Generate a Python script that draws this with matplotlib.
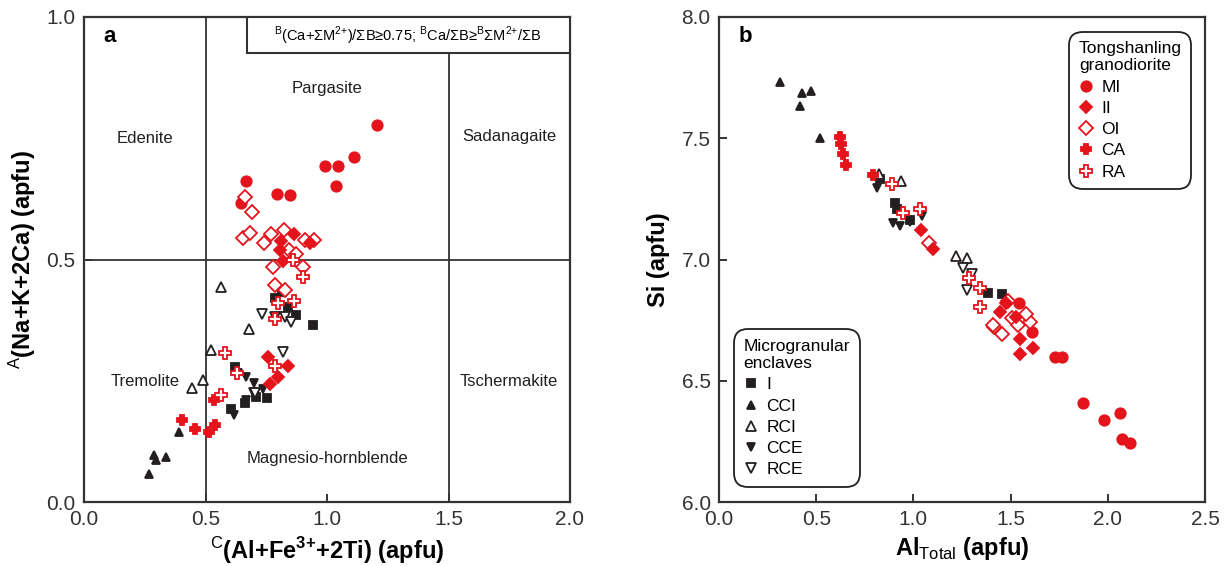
import numpy as np
import matplotlib
matplotlib.use('Agg')
import matplotlib.pyplot as plt
from matplotlib.patches import Rectangle

plt.rcParams['font.family'] = ['Liberation Sans', 'DejaVu Sans']
plt.rcParams['mathtext.fontset'] = 'custom'
plt.rcParams['mathtext.rm'] = 'Liberation Sans'
plt.rcParams['mathtext.bf'] = 'Liberation Sans:bold'

# panel a: C(Al+Fe3++2Ti) vs A(Na+K+2Ca)
mi_a_x = [1.205, 1.112, 0.992, 1.046, 1.039, 0.667, 0.793, 0.846, 0.647]
mi_a_y = [0.778, 0.712, 0.692, 0.692, 0.652, 0.661, 0.636, 0.633, 0.616]
ii_a_x = [0.865, 0.812, 0.805, 0.818, 0.930, 0.759, 0.841, 0.800, 0.766]
ii_a_y = [0.552, 0.539, 0.520, 0.496, 0.535, 0.299, 0.280, 0.258, 0.243]
oi_a_x = [0.664, 0.690, 0.653, 0.682, 0.741, 0.771, 0.822, 0.778, 0.844, 0.903, 0.874, 0.788, 0.829, 0.911, 0.947]
oi_a_y = [0.628, 0.597, 0.545, 0.554, 0.533, 0.552, 0.560, 0.485, 0.519, 0.485, 0.511, 0.448, 0.437, 0.541, 0.541]
ca_a_x = [0.405, 0.457, 0.513, 0.539, 0.535]
ca_a_y = [0.169, 0.150, 0.145, 0.158, 0.210]
ra_a_x = [0.582, 0.564, 0.628, 0.785, 0.800, 0.866, 0.785, 0.900, 0.859]
ra_a_y = [0.307, 0.221, 0.266, 0.280, 0.411, 0.414, 0.377, 0.464, 0.500]
i_a_x = [0.942, 0.874, 0.841, 0.785, 0.815, 0.623, 0.753, 0.706, 0.662, 0.606]
i_a_y = [0.365, 0.386, 0.403, 0.420, 0.433, 0.278, 0.215, 0.217, 0.204, 0.191]
cci_a_x = [0.393, 0.290, 0.337, 0.295, 0.267]
cci_a_y = [0.144, 0.097, 0.092, 0.087, 0.057]
rci_a_x = [0.564, 0.679, 0.523, 0.491, 0.443]
rci_a_y = [0.443, 0.357, 0.314, 0.252, 0.236]
cce_a_x = [0.665, 0.700, 0.738, 0.694, 0.616, 0.667]
cce_a_y = [0.258, 0.245, 0.234, 0.226, 0.180, 0.210]
rce_a_x = [0.731, 0.785, 0.829, 0.852, 0.819, 0.629, 0.704]
rce_a_y = [0.388, 0.381, 0.381, 0.371, 0.310, 0.263, 0.225]

# panel b: Al total vs Si
mi_b_x = [1.543, 1.610, 1.727, 1.764, 1.873, 1.980, 2.063, 2.073, 2.116]
mi_b_y = [6.820, 6.700, 6.598, 6.598, 6.408, 6.338, 6.367, 6.260, 6.243]
ii_b_x = [1.040, 1.100, 1.445, 1.528, 1.548, 1.548, 1.615, 1.476]
ii_b_y = [7.120, 7.043, 6.783, 6.763, 6.672, 6.610, 6.635, 6.820]
oi_b_x = [1.080, 1.415, 1.456, 1.487, 1.507, 1.538, 1.600, 1.579, 1.410]
oi_b_y = [7.070, 6.720, 6.693, 6.828, 6.760, 6.730, 6.742, 6.775, 6.730]
ca_b_x = [0.622, 0.630, 0.636, 0.653, 0.790]
ca_b_y = [7.505, 7.475, 7.435, 7.390, 7.350]
ra_b_x = [0.888, 0.948, 1.035, 1.286, 1.343, 1.343]
ra_b_y = [7.310, 7.190, 7.210, 6.924, 6.882, 6.804]
i_b_x = [0.830, 0.914, 0.905, 0.983, 1.384, 1.456]
i_b_y = [7.330, 7.210, 7.233, 7.163, 6.862, 6.857]
cci_b_x = [0.314, 0.427, 0.472, 0.417, 0.520]
cci_b_y = [7.730, 7.686, 7.695, 7.635, 7.500]
rci_b_x = [0.823, 0.934, 1.219, 1.274]
rci_b_y = [7.353, 7.324, 7.014, 7.006]
cce_b_x = [0.813, 0.896, 0.930, 0.983, 1.043]
cce_b_y = [7.295, 7.150, 7.140, 7.155, 7.180]
rce_b_x = [1.256, 1.300, 1.274]
rce_b_y = [6.965, 6.940, 6.874]

red = '#e5131b'
blk = '#231f20'
dark = '#333333'

# marker styles: (marker, size, face, edge)
enclave_style = {
    'I': ('s', 6, blk, blk),
    'CCI': ('^', 6, blk, blk),
    'RCI': ('^', 7, 'white', blk),
    'CCE': ('v', 6, blk, blk),
    'RCE': ('v', 7, 'white', blk),
}
grano_style = {
    'MI': ('o', 7.5, red, red),
    'II': ('D', 6.5, red, red),
    'OI': ('D', 7, 'white', red),
    'CA': ('P', 7, red, red),
    'RA': ('P', 8.5, 'white', red),
}

fig = plt.figure(figsize=(12.28, 5.66), dpi=100)
ax1 = fig.add_axes([84 / 1228, 1 - 502 / 566, 486 / 1228, 485 / 566])
ax2 = fig.add_axes([719 / 1228, 1 - 502 / 566, 486 / 1228, 485 / 566])


def draw(ax, data):
    handles = {}
    for name, (x, y) in data.items():
        m, s, fc, ec = {**enclave_style, **grano_style}[name]
        h, = ax.plot(x, y, ls='none', marker=m, ms=s, mfc=fc, mec=ec, mew=1.3, label=name)
        handles[name] = h
    return handles


data_a = {'I': (i_a_x, i_a_y), 'CCI': (cci_a_x, cci_a_y), 'RCI': (rci_a_x, rci_a_y),
          'CCE': (cce_a_x, cce_a_y), 'RCE': (rce_a_x, rce_a_y),
          'MI': (mi_a_x, mi_a_y), 'OI': (oi_a_x, oi_a_y), 'II': (ii_a_x, ii_a_y),
          'CA': (ca_a_x, ca_a_y), 'RA': (ra_a_x, ra_a_y)}
data_b = {'I': (i_b_x, i_b_y), 'CCI': (cci_b_x, cci_b_y), 'RCI': (rci_b_x, rci_b_y),
          'CCE': (cce_b_x, cce_b_y), 'RCE': (rce_b_x, rce_b_y),
          'MI': (mi_b_x, mi_b_y), 'OI': (oi_b_x, oi_b_y), 'II': (ii_b_x, ii_b_y),
          'CA': (ca_b_x, ca_b_y), 'RA': (ra_b_x, ra_b_y)}

# ---- panel a ----
ax1.axvline(0.5, color=dark, lw=1.3, zorder=1)
ax1.plot([1.5, 1.5], [0, 0.93], color=dark, lw=1.3, zorder=1)
ax1.axhline(0.5, color=dark, lw=1.3, zorder=1)
draw(ax1, data_a)
ax1.set_xlim(0, 2)
ax1.set_ylim(0, 1)
ax1.set_xticks([0, 0.5, 1.0, 1.5, 2.0])
ax1.set_yticks([0, 0.5, 1.0])

fields = [('Edenite', 0.25, 0.75), ('Pargasite', 1.0, 0.852), ('Sadanagaite', 1.75, 0.753),
          ('Tremolite', 0.25, 0.249), ('Tschermakite', 1.75, 0.249),
          ('Magnesio-hornblende', 1.0, 0.089)]
for txt, fx, fy in fields:
    ax1.text(fx, fy, txt, ha='center', va='center', fontsize=12, color=blk)

ax1.add_patch(Rectangle((0.335, 0.926), 0.665, 0.074, transform=ax1.transAxes,
                        facecolor='white', edgecolor=dark, lw=1.5, zorder=5))
ax1.text(0.667, 0.962,
         r'$^{\rm B}$(Ca+ΣM$^{2{+}}$)/ΣB≥0.75; $^{\rm B}$Ca/ΣB≥$^{\rm B}$ΣM$^{2{+}}$/ΣB',
         transform=ax1.transAxes, ha='center', va='center', fontsize=10.5, zorder=6)
ax1.text(0.04, 0.96, 'a', transform=ax1.transAxes, fontsize=16, fontweight='bold', va='center')
ax1.set_xlabel(r'$^{\mathrm{C}}$(Al+Fe$^{\mathbf{3{+}}}$+2Ti) (apfu)', fontsize=17, fontweight='bold', labelpad=4)
ax1.set_ylabel(r'$^{\mathrm{A}}$(Na+K+2Ca) (apfu)', fontsize=17, fontweight='bold', labelpad=6)

# ---- panel b ----
hb = draw(ax2, data_b)
ax2.set_xlim(0, 2.5)
ax2.set_ylim(6, 8)
ax2.set_xticks([0, 0.5, 1.0, 1.5, 2.0, 2.5])
ax2.set_yticks([6.0, 6.5, 7.0, 7.5, 8.0])
ax2.text(0.04, 0.96, 'b', transform=ax2.transAxes, fontsize=16, fontweight='bold', va='center')
ax2.set_xlabel(r'Al$_{\mathrm{Total}}$ (apfu)', fontsize=17, fontweight='bold', labelpad=4)
ax2.set_ylabel('Si (apfu)', fontsize=17, fontweight='bold', labelpad=8)

leg_kw = dict(fontsize=12.5, title_fontsize=12.5, alignment='left', frameon=True,
              fancybox=True, handlelength=0.8, handletextpad=0.5, labelspacing=0.35,
              borderpad=0.55, borderaxespad=0, edgecolor=blk)
leg1 = ax2.legend([hb[k] for k in ['MI', 'II', 'OI', 'CA', 'RA']], ['MI', 'II', 'OI', 'CA', 'RA'],
                  title='Tongshanling\ngranodiorite', loc='upper right',
                  bbox_to_anchor=(0.972, 0.97), **leg_kw)
leg2 = ax2.legend([hb[k] for k in ['I', 'CCI', 'RCI', 'CCE', 'RCE']], ['I', 'CCI', 'RCI', 'CCE', 'RCE'],
                  title='Microgranular\nenclaves', loc='lower left',
                  bbox_to_anchor=(0.031, 0.031), **leg_kw)
ax2.add_artist(leg1)
for leg in (leg1, leg2):
    fr = leg.get_frame()
    fr.set_boxstyle('round,pad=0,rounding_size=0.8')
    fr.set_linewidth(1.3)
    fr.set_alpha(1)

for ax in (ax1, ax2):
    for sp in ax.spines.values():
        sp.set_linewidth(1.6)
        sp.set_color(dark)
    ax.tick_params(direction='in', length=6, width=1.4, color=dark, labelsize=15,
                   labelcolor=dark, pad=6)

fig.savefig('out.png', dpi=100)
